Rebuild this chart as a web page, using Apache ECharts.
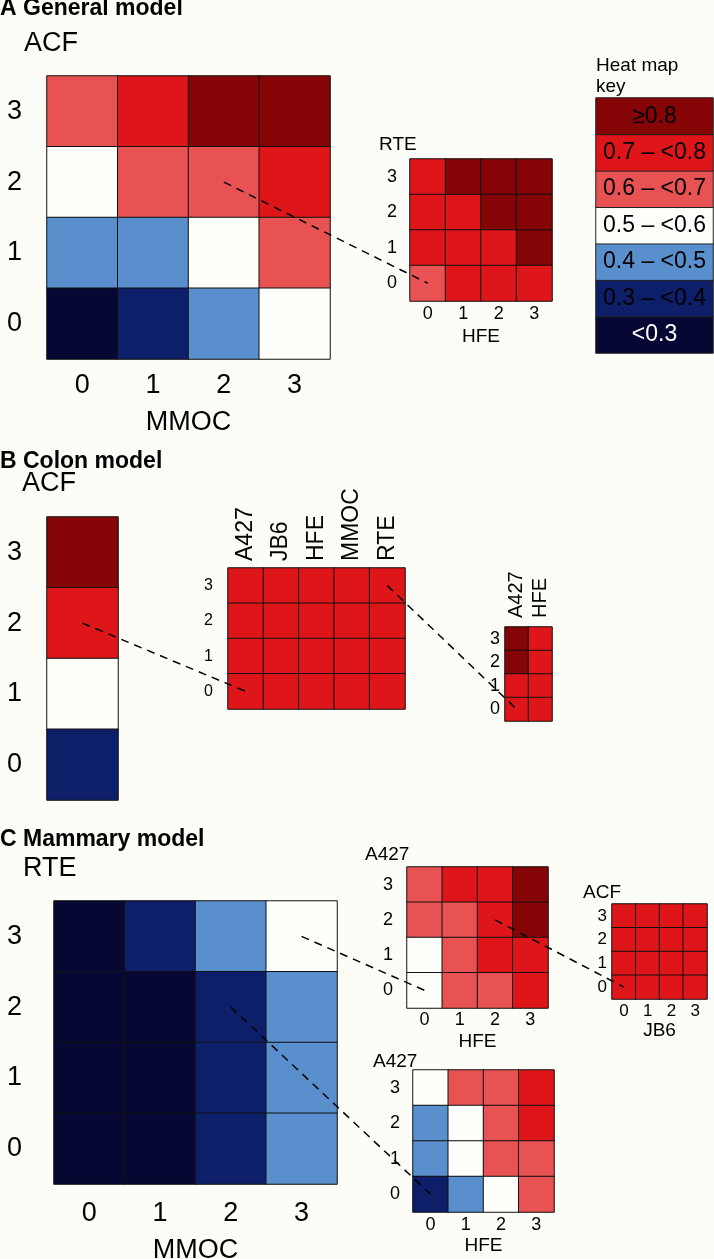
<!DOCTYPE html>
<html>
<head>
<meta charset="utf-8">
<script src="https://cdn.jsdelivr.net/npm/echarts@6/dist/echarts.min.js"></script>
<style>
  html, body { margin: 0; padding: 0; background: #fdfdf8; }
  #chart { width: 714px; height: 1259px; }
</style>
</head>
<body>
<div id="chart"></div>
<script>
// heat map key, lowest bin first
const keyLabels = ['<0.3', '0.3 – <0.4', '0.4 – <0.5', '0.5 – <0.6', '0.6 – <0.7', '0.7 – <0.8', '≥0.8']
const keyValues = [0.25, 0.35, 0.45, 0.55, 0.65, 0.75, 0.85]
const keyColors = ['#060833', '#0e1f6a', '#598fcd', '#fefefa', '#e95252', '#df1619', '#850507']

const levels = ['0', '1', '2', '3']

// every matrix is written top row (level 3) first, down to level 0
const generalAcfByMmoc = [
    [0.65, 0.75, 0.85, 0.85],
    [0.55, 0.65, 0.65, 0.75],
    [0.45, 0.45, 0.55, 0.65],
    [0.25, 0.35, 0.45, 0.55]
]
const generalRteByHfe = [
    [0.75, 0.85, 0.85, 0.85],
    [0.75, 0.75, 0.85, 0.85],
    [0.75, 0.75, 0.75, 0.85],
    [0.65, 0.75, 0.75, 0.75]
]

const colonAcf = [[0.85], [0.75], [0.55], [0.35]]
const colonLines = ['A427', 'JB6', 'HFE', 'MMOC', 'RTE']
const colonLinesAtAcf2 = [
    [0.75, 0.75, 0.75, 0.75, 0.75],
    [0.75, 0.75, 0.75, 0.75, 0.75],
    [0.75, 0.75, 0.75, 0.75, 0.75],
    [0.75, 0.75, 0.75, 0.75, 0.75]
]
const colonSubLines = ['A427', 'HFE']
const colonSubAtRte3 = [
    [0.85, 0.75],
    [0.85, 0.75],
    [0.75, 0.75],
    [0.75, 0.75]
]

const mammaryRteByMmoc = [
    [0.25, 0.35, 0.45, 0.55],
    [0.25, 0.25, 0.35, 0.45],
    [0.25, 0.25, 0.35, 0.45],
    [0.25, 0.25, 0.35, 0.45]
]
const mammaryA427ByHfeTop = [
    [0.65, 0.75, 0.75, 0.85],
    [0.65, 0.65, 0.75, 0.85],
    [0.55, 0.65, 0.75, 0.75],
    [0.55, 0.65, 0.65, 0.75]
]
const mammaryAcfByJb6 = [
    [0.75, 0.75, 0.75, 0.75],
    [0.75, 0.75, 0.75, 0.75],
    [0.75, 0.75, 0.75, 0.75],
    [0.75, 0.75, 0.75, 0.75]
]
const mammaryA427ByHfeBottom = [
    [0.55, 0.65, 0.65, 0.75],
    [0.45, 0.55, 0.65, 0.75],
    [0.45, 0.55, 0.65, 0.65],
    [0.35, 0.45, 0.55, 0.65]
]

// dashed links: [from panel, [x, y], to panel, [x, y]]
const links = [
    ['aMain', [2, 2], 'aSub', [0, 0]],
    ['bCol', [0, 2], 'bMid', [0, 0]],
    ['bMid', [4, 3], 'bSub', [0, 0]],
    ['cMain', [3, 3], 'cTop', [0, 0]],
    ['cMain', [2, 2], 'cBottom', [0, 0]],
    ['cTop', [2, 2], 'cRight', [0, 0]]
]

const font = 'Liberation Sans, Arial, sans-serif'

const panels = [
    { id: 'aMain', box: [47, 76, 283, 283], x: levels, y: levels, m: generalAcfByMmoc,
      xName: 'MMOC', fs: 27, yMargin: 25, xMargin: 13, nameGap: 50 },
    { id: 'aSub', box: [410, 159, 142, 142], x: levels, y: levels, m: generalRteByHfe,
      xName: 'HFE', fs: 18, nameFs: 19, yMargin: 13, xMargin: 4, nameGap: 26 },
    { id: 'bCol', box: [47, 517, 71, 283], x: ['ACF'], y: levels, m: colonAcf,
      hideX: true, fs: 27, yMargin: 25 },
    { id: 'bMid', box: [228, 568, 177, 141], x: colonLines, y: levels, m: colonLinesAtAcf2,
      top: true, fs: 16, xFs: 23, yMargin: 15, xMargin: 7 },
    { id: 'bSub', box: [505, 627, 47, 94], x: colonSubLines, y: levels, m: colonSubAtRte3,
      top: true, fs: 18, xFs: 20, yMargin: 5, xMargin: 9 },
    { id: 'cMain', box: [54, 901, 283, 283], x: levels, y: levels, m: mammaryRteByMmoc,
      xName: 'MMOC', fs: 27, yMargin: 32, xMargin: 16, nameGap: 53 },
    { id: 'cTop', box: [407, 867, 141, 141], x: levels, y: levels, m: mammaryA427ByHfeTop,
      xName: 'HFE', fs: 18, nameFs: 19, yMargin: 14, xMargin: 3, nameGap: 24 },
    { id: 'cRight', box: [612, 904, 95, 95], x: levels, y: levels, m: mammaryAcfByJb6,
      xName: 'JB6', fs: 17, nameFs: 19, yMargin: 5, xMargin: 4, nameGap: 21 },
    { id: 'cBottom', box: [413, 1070, 141, 142], x: levels, y: levels, m: mammaryA427ByHfeBottom,
      xName: 'HFE', fs: 18, nameFs: 19, yMargin: 13, xMargin: 4, nameGap: 24 }
]

const grids = []
const xAxes = []
const yAxes = []
const series = []

function toCells(m) {
    const cells = []
    const rows = m.length
    m.forEach((row, r) => {
        row.forEach((v, c) => {
            cells.push([c, rows - 1 - r, v])
        })
    })
    return cells
}

panels.forEach((p, i) => {
    grids.push({
        left: p.box[0], top: p.box[1], width: p.box[2], height: p.box[3],
        outerBoundsMode: 'none'
    })
    xAxes.push({
        type: 'category', gridIndex: i, data: p.x,
        position: p.top ? 'top' : 'bottom',
        axisLine: { show: false }, axisTick: { show: false }, splitLine: { show: false },
        axisLabel: {
            show: !p.hideX, color: '#000', fontFamily: font,
            fontSize: p.xFs || p.fs, margin: p.xMargin || 8,
            rotate: p.top ? -90 : 0, interval: 0
        },
        name: p.xName || '', nameLocation: 'middle', nameGap: p.nameGap || 30,
        nameTextStyle: { color: '#000', fontFamily: font, fontSize: p.nameFs || p.fs }
    })
    yAxes.push({
        type: 'category', gridIndex: i, data: p.y,
        axisLine: { show: false }, axisTick: { show: false }, splitLine: { show: false },
        axisLabel: { color: '#000', fontFamily: font, fontSize: p.fs, margin: p.yMargin }
    })
    series.push({
        type: 'heatmap', xAxisIndex: i, yAxisIndex: i,
        data: toCells(p.m),
        itemStyle: { borderColor: '#111', borderWidth: 1 },
        emphasis: { disabled: true },
        silent: true
    })
})

// key drawn as a one column heat map
const keyIndex = panels.length
grids.push({ left: 596, top: 98, width: 117, height: 255, outerBoundsMode: 'none' })
xAxes.push({ type: 'category', gridIndex: keyIndex, data: ['key'], show: false })
yAxes.push({ type: 'category', gridIndex: keyIndex, data: keyLabels, show: false })
series.push({
    type: 'heatmap', xAxisIndex: keyIndex, yAxisIndex: keyIndex,
    data: keyValues.map((v, i) => ({
        value: [0, i, v],
        label: { color: i === 0 ? '#fff' : '#000' }
    })),
    label: {
        show: true, fontFamily: font, fontSize: 23,
        formatter: (p) => keyLabels[p.value[1]]
    },
    itemStyle: { borderColor: '#222', borderWidth: 1 },
    emphasis: { disabled: true },
    silent: true
})

const pieces = keyValues.map((v, i) => {
    const lo = Math.round((v - 0.05) * 10) / 10
    const piece = { color: keyColors[i] }
    if (i > 0) piece.gte = lo
    if (i < keyValues.length - 1) piece.lt = Math.round((lo + 0.1) * 10) / 10
    return piece
})

function label(text, x, y, size, bold) {
    return {
        type: 'text', x: x, y: y, z: 50,
        style: {
            text: text, fill: '#000',
            font: (bold ? 'bold ' : '') + size + 'px ' + font,
            textVerticalAlign: 'top', lineHeight: 21
        }
    }
}

const texts = [
    label('A General model', 0, -2, 23, true),
    label('ACF', 24, 33, 27),
    label('RTE', 379, 134, 19),
    label('Heat map\nkey', 596, 55, 19),
    label('B Colon model', 0, 451, 23, true),
    label('ACF', 22, 473, 27),
    label('C Mammary model', 0, 829, 23, true),
    label('RTE', 23, 858, 27),
    label('A427', 365, 844, 19),
    label('ACF', 583, 882, 19),
    label('A427', 373, 1051, 19)
]

const chart = echarts.init(document.getElementById('chart'))
chart.setOption({
    backgroundColor: '#fdfdf8',
    animation: false,
    grid: grids,
    xAxis: xAxes,
    yAxis: yAxes,
    visualMap: {
        type: 'piecewise', show: false,
        seriesIndex: series.map((s, i) => i),
        pieces: pieces
    },
    series: series,
    graphic: texts
})

const panelIndex = {}
panels.forEach((p, i) => { panelIndex[p.id] = i })

const dashes = links.map(([a, pa, b, pb]) => {
    const p1 = chart.convertToPixel({ gridIndex: panelIndex[a] }, pa)
    const p2 = chart.convertToPixel({ gridIndex: panelIndex[b] }, pb)
    return {
        type: 'line', z: 60,
        shape: { x1: p1[0], y1: p1[1], x2: p2[0], y2: p2[1] },
        style: { stroke: '#000', lineWidth: 1.5, lineDash: [8, 6] }
    }
})

chart.setOption({ graphic: texts.concat(dashes) })
</script>
</body>
</html>
